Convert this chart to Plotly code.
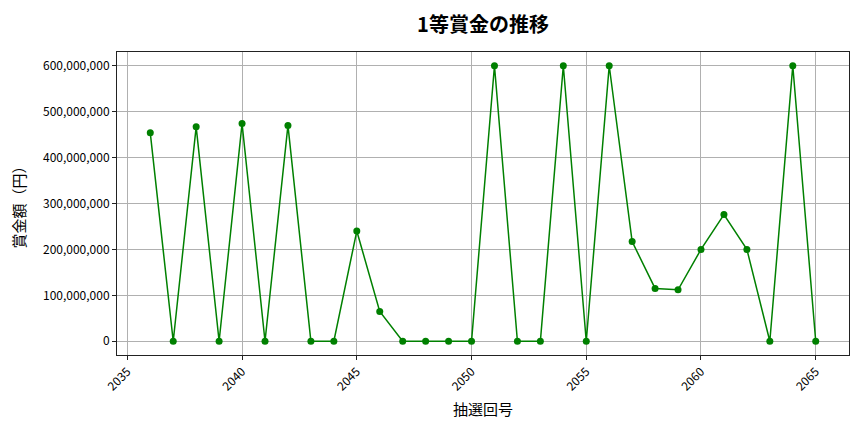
import plotly.graph_objects as go

draw_no = list(range(2036, 2066))
prize = [454_000_000, 0, 467_000_000, 0, 474_000_000, 0, 470_000_000, 0, 0,
         240_000_000, 65_000_000, 0, 0, 0, 0, 600_000_000, 0, 0, 600_000_000, 0,
         600_000_000, 217_000_000, 115_000_000, 112_000_000, 200_000_000,
         276_000_000, 200_000_000, 0, 600_000_000, 0]
x_ticks = [2035, 2040, 2045, 2050, 2055, 2060, 2065]
y_ticks = [0, 100_000_000, 200_000_000, 300_000_000, 400_000_000, 500_000_000, 600_000_000]

FONT = "Noto Sans CJK JP"

fig = go.Figure(go.Scatter(
    x=draw_no, y=prize,
    mode="lines+markers",
    line=dict(color="green", width=1.5),
    marker=dict(color="green", size=7),
))

axis_common = dict(
    showline=True, linecolor="#222", linewidth=1, mirror=True,
    showgrid=True, gridcolor="#b0b0b0", gridwidth=1,
    ticks="outside", ticklen=4, tickcolor="#222",
    zeroline=False, automargin=False,
    tickfont=dict(family=FONT, size=12, color="#000"),
)

# page body has an 8px margin, so the figure is a bit smaller than the window
fig.update_layout(
    width=856, height=424,
    margin=dict(l=109, r=15, t=44, b=77),
    paper_bgcolor="white", plot_bgcolor="white",
    font=dict(family=FONT, color="#000"),
    title=dict(text="<b>1等賞金の推移</b>", xref="paper", x=0.5, xanchor="center",
               y=0.96, yanchor="middle", font=dict(size=20)),
    showlegend=False,
    xaxis=dict(axis_common, range=[2034.55, 2066.45], tickvals=x_ticks,
               tickangle=-45,
               title=dict(text="抽選回号", font=dict(size=15), standoff=11)),
    yaxis=dict(axis_common, range=[-30_000_000, 630_000_000], tickvals=y_ticks,
               tickformat=",d",
               title=dict(text="賞金額（円）", font=dict(size=15), standoff=13)),
)

fig.write_html("out.html")
